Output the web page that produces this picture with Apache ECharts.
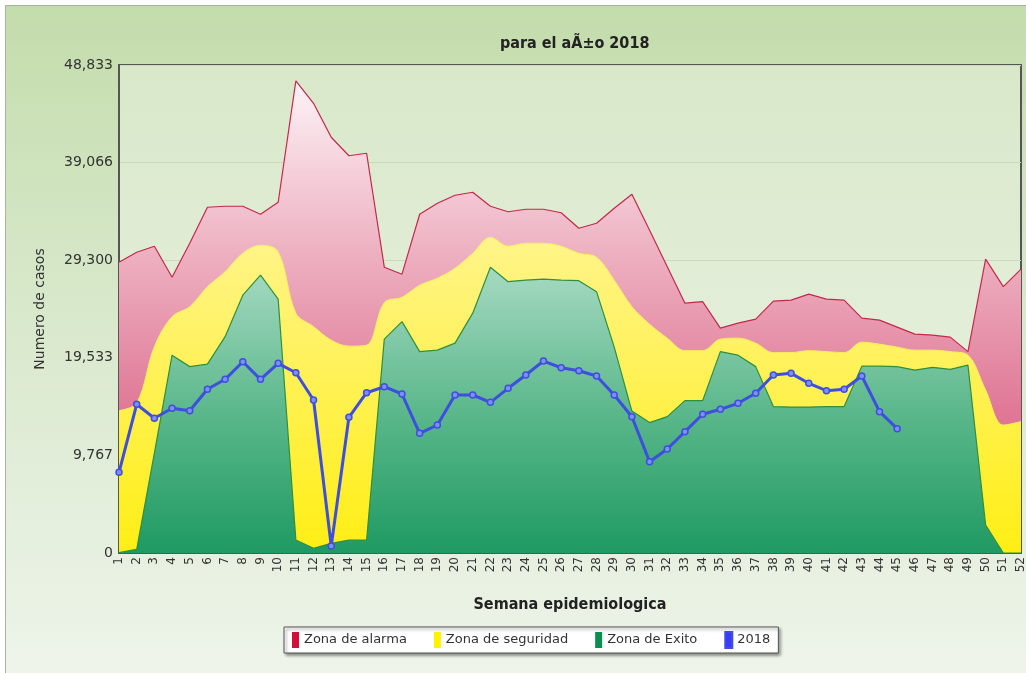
<!DOCTYPE html>
<html>
<head>
<meta charset="utf-8">
<script src="https://cdn.jsdelivr.net/npm/echarts@6/dist/echarts.min.js"></script>
<style>
	html, body { margin: 0; padding: 0; background: #fff; overflow: hidden; }
	#main {
		position: absolute; left: 5px; top: 5px; width: 1021px; height: 668px;
		border-left: 1px solid #a9b3a2; border-top: 1px solid #a9b3a2;
		background: linear-gradient(to bottom, #c3dcab 0%, #d6e7c8 40%, #eef4ea 100%);
	}
</style>
</head>
<body>
<div id="main"></div>
<script>
const weeks = [];
for (let i = 1; i <= 52; i++) weeks.push(String(i));

const alarma = [29100, 30100, 30700, 27600, 31000, 34600, 34700, 34700, 33900, 35100,
	47250, 45000, 41600, 39750, 40000, 28600, 27900, 33900, 35000, 35800,
	36100, 34700, 34150, 34400, 34400, 34050, 32500, 33000, 34500, 35900,
	32300, 28650, 25000, 25150, 22500, 23000, 23400, 25200, 25300, 25900,
	25400, 25300, 23500, 23300, 22600, 21900, 21800, 21600, 20150, 29400,
	26650, 28400];

const seguridad = [14250, 15000, 20650, 23650, 24650, 26650, 28150, 30000, 30800, 30150,
	24000, 22650, 21300, 20700, 20800, 25050, 25600, 26800, 27500, 28500,
	30000, 31600, 30700, 31000, 31000, 30700, 30000, 29600, 27300, 24650,
	22900, 21500, 20250, 20250, 21400, 21500, 21000, 20050, 20050, 20250,
	20150, 20050, 21100, 20900, 20600, 20300, 20300, 20150, 19800, 16300,
	12800, 13150];

const exito = [30, 370, 10000, 19800, 18650, 18900, 21650, 25800, 27800, 25400,
	1300, 470, 970, 1300, 1300, 21400, 23150, 20150, 20300, 21000,
	24000, 28600, 27150, 27300, 27400, 27300, 27250, 26150, 20600, 14200,
	13050, 13650, 15250, 15250, 20150, 19800, 18650, 14650, 14600, 14600,
	14650, 14650, 18700, 18700, 18650, 18300, 18580, 18380, 18800, 2800,
	0, 0];

const casos2018 = [8080, 14880, 13480, 14480, 14240, 16380, 17380, 19140, 17380, 18980,
	18040, 15310, 700, 13580, 16040, 16640, 15910, 11980, 12810, 15810,
	15810, 15080, 16480, 17810, 19210, 18540, 18240, 17710, 15810, 13640,
	9140, 10410, 12140, 13880, 14380, 14980, 15980, 17810, 17980, 16980,
	16240, 16380, 17710, 14140, 12440, null, null, null, null, null,
	null, null];

const yMax = 48833;

const myChart = echarts.init(document.getElementById('main'));

function grad(stops) {
	return new echarts.graphic.LinearGradient(0, 0, 0, 1, stops);
}

option = {
	animation: false,
	textStyle: { fontFamily: 'DejaVu Sans' },
	title: {
		text: 'para el aÃ±o 2018',
		left: 489,
		top: 25,
		textStyle: { fontFamily: 'DejaVu Sans Condensed', fontSize: 16, fontWeight: 'bold', color: '#222' }
	},
	legend: {
		bottom: 21,
		left: 278,
		itemWidth: 7,
		itemHeight: 16,
		itemGap: 27,
		padding: [4, 8],
		backgroundColor: '#fff',
		borderColor: '#555',
		borderWidth: 1,
		shadowColor: 'rgba(0,0,0,0.45)',
		shadowBlur: 3,
		shadowOffsetX: 2,
		shadowOffsetY: 2,
		textStyle: { fontSize: 13, color: '#333' },
		data: [
			{ name: 'Zona de alarma', icon: 'rect', itemStyle: { color: '#d0103a' } },
			{ name: 'Zona de seguridad', icon: 'rect', itemStyle: { color: '#fff200' } },
			{ name: 'Zona de Exito', icon: 'rect', itemStyle: { color: '#0b8f50' } },
			{ name: '2018', icon: 'rect', itemStyle: { color: '#3a3aff' } }
		]
	},
	grid: {
		left: 113,
		top: 59,
		right: 6,
		bottom: 121,
		show: true,
		borderColor: '#555',
		borderWidth: 2,
		backgroundColor: grad([
			{ offset: 0, color: '#d8e8c9' },
			{ offset: 1, color: '#ecf3e6' }
		])
	},
	xAxis: {
		type: 'category',
		data: weeks,
		boundaryGap: false,
		name: 'Semana epidemiologica',
		nameLocation: 'middle',
		nameGap: 44,
		nameTextStyle: { fontFamily: 'DejaVu Sans Condensed', fontSize: 16, fontWeight: 'bold', color: '#222' },
		axisLine: { lineStyle: { color: '#555', width: 2 } },
		axisTick: { show: false },
		axisLabel: { interval: 0, rotate: 90, fontSize: 12, color: '#333', margin: 4 },
		splitLine: { show: false }
	},
	yAxis: {
		type: 'value',
		min: 0,
		max: yMax,
		interval: yMax / 5,
		name: 'Numero de casos',
		nameLocation: 'middle',
		nameGap: 72,
		nameTextStyle: { fontSize: 14, color: '#333' },
		axisLine: { show: true, lineStyle: { color: '#555', width: 2 } },
		axisTick: { show: false },
		axisLabel: {
			fontSize: 14, color: '#333', margin: 6,
			formatter: function (v) { return Math.round(v).toLocaleString('en-US'); }
		},
		splitLine: { lineStyle: { color: '#c9dabd', width: 1 } }
	},
	series: [
		{
			name: 'Zona de alarma',
			type: 'line',
			data: alarma,
			showSymbol: false,
			lineStyle: { color: '#c4284a', width: 1.2 },
			itemStyle: { color: '#d0103a' },
			areaStyle: {
				opacity: 1,
				color: grad([
					{ offset: 0, color: '#fdf2f6' },
					{ offset: 0.35, color: '#eeb3c3' },
					{ offset: 0.7, color: '#e07896' },
					{ offset: 1, color: '#d8557a' }
				])
			},
			z: 2
		},
		{
			name: 'Zona de seguridad',
			type: 'line',
			data: seguridad,
			smooth: 0.35,
			showSymbol: false,
			lineStyle: { color: '#f8ee60', width: 1 },
			itemStyle: { color: '#fff200' },
			areaStyle: {
				opacity: 1,
				color: grad([
					{ offset: 0, color: '#fff48a' },
					{ offset: 1, color: '#ffee14' }
				])
			},
			z: 3
		},
		{
			name: 'Zona de Exito',
			type: 'line',
			data: exito,
			showSymbol: false,
			lineStyle: { color: '#2f8f3c', width: 1.2 },
			itemStyle: { color: '#0b8f50' },
			areaStyle: {
				opacity: 1,
				color: grad([
					{ offset: 0, color: '#a6dac2' },
					{ offset: 0.5, color: '#5cb88c' },
					{ offset: 1, color: '#1f9a62' }
				])
			},
			z: 4
		},
		{
			name: '2018',
			type: 'line',
			data: casos2018,
			symbol: 'circle',
			symbolSize: 6,
			showAllSymbol: true,
			lineStyle: { color: '#3e4fe0', width: 3 },
			itemStyle: { color: '#7f8ff0', borderColor: '#3e4fe0', borderWidth: 1.5 },
			z: 5
		}
	]
};

myChart.setOption(option);
</script>
</body>
</html>
